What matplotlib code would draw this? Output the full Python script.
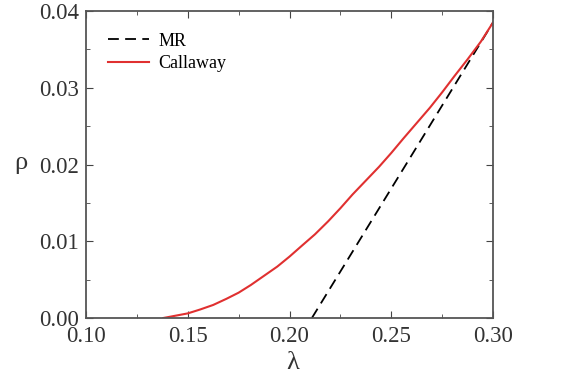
import numpy as np
import matplotlib
matplotlib.use('Agg')
import matplotlib.pyplot as plt
from matplotlib.ticker import MultipleLocator

# Datos
lam_callaway = [0.138, 0.142, 0.146, 0.150, 0.156, 0.1625, 0.169, 0.175, 0.181, 0.1875,
                0.194, 0.200, 0.206, 0.2125, 0.219, 0.225, 0.231, 0.2375, 0.244, 0.250,
                0.256, 0.2625, 0.269, 0.275, 0.281, 0.2875, 0.294, 0.300]
rho_callaway = [0.0, 0.0002, 0.0004, 0.0006, 0.0011, 0.0017, 0.0025, 0.0033, 0.0043, 0.0055,
                0.0067, 0.0080, 0.0094, 0.0109, 0.0126, 0.0143, 0.0161, 0.0179, 0.0197, 0.0215,
                0.0234, 0.0254, 0.0274, 0.0294, 0.0315, 0.0337, 0.0360, 0.0385]
lam_mr = [0.211, 0.300]
rho_mr = [0.0, 0.0385]

plt.rcParams['font.family'] = ['Liberation Serif', 'DejaVu Serif']

fig = plt.figure(figsize=(5.79, 3.82), dpi=100)
ax = fig.add_axes([86 / 579, 1 - 318 / 382, 407 / 579, 307 / 382])

ax.plot(lam_mr, rho_mr, color='black', ls=(0, (6, 3.5)), lw=1.3, label='MR')
ax.plot(lam_callaway, rho_callaway, color='#e03030', lw=1.5, label='Callaway')

ax.set_xlim(0.10, 0.30)
ax.set_ylim(0.0, 0.04)
ax.xaxis.set_major_locator(MultipleLocator(0.05))
ax.xaxis.set_minor_locator(MultipleLocator(0.025))
ax.yaxis.set_major_locator(MultipleLocator(0.01))
ax.yaxis.set_minor_locator(MultipleLocator(0.005))
ax.xaxis.set_major_formatter(plt.FormatStrFormatter('%.2f'))
ax.yaxis.set_major_formatter(plt.FormatStrFormatter('%.2f'))
ax.tick_params(which='both', direction='in', top=True, right=True, colors='#444444',
               labelcolor='#333333', labelsize=16.5)
ax.tick_params(axis='x', pad=6)
ax.tick_params(axis='y', pad=5)
ax.tick_params(which='major', length=5)
ax.tick_params(which='minor', length=3)
for s in ax.spines.values():
    s.set_color('#555555')
    s.set_linewidth(1.3)

ax.set_xlabel('λ', fontsize=19, color='#333333', va='center')
ax.set_ylabel('ρ', fontsize=19, color='#333333', rotation=0, va='center', ha='center')
ax.xaxis.set_label_coords(0.509, -0.145)
ax.yaxis.set_label_coords(-0.16, 0.505)

ax.legend(loc='upper left', frameon=False, fontsize=13, handlelength=2.3,
          labelspacing=0.3, borderaxespad=0.8, handletextpad=0.5)

fig.savefig('out.png', dpi=100)
